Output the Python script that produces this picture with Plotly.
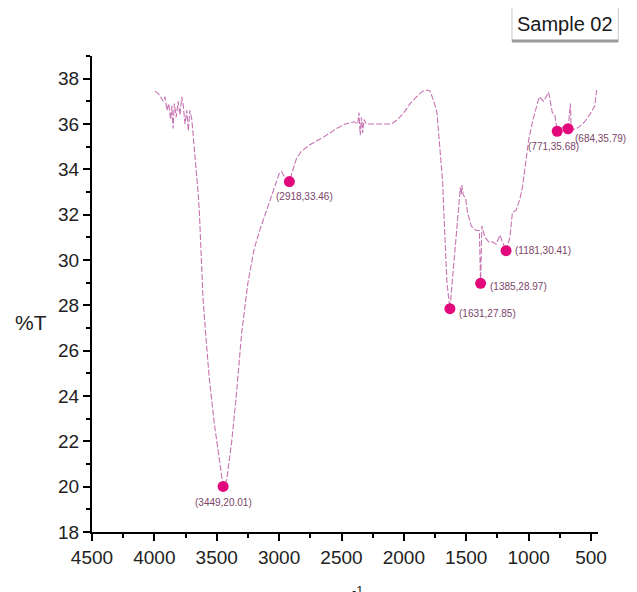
import plotly.graph_objects as go

# FTIR spectrum of Sample 02
wavenumber = [3995, 3970, 3950, 3930, 3915, 3900, 3885, 3870, 3860, 3850, 3840, 3825,
              3810, 3795, 3780, 3768, 3755, 3740, 3728, 3715, 3700, 3690, 3680, 3670,
              3660, 3650, 3640, 3625, 3610, 3590, 3560, 3520, 3480, 3449, 3420, 3380,
              3347, 3300, 3250, 3200, 3150, 3100, 3050, 3000, 2980, 2950, 2918, 2890,
              2860, 2820, 2750, 2650, 2540, 2470, 2400, 2370, 2360, 2350, 2340, 2330,
              2320, 2300, 2200, 2100, 2050, 2000, 1950, 1900, 1850, 1810, 1790, 1760,
              1735, 1710, 1690, 1675, 1655, 1631, 1615, 1600, 1580, 1565, 1555, 1548,
              1540, 1535, 1525, 1505, 1490, 1460, 1420, 1395, 1385, 1375, 1350, 1320,
              1290, 1260, 1230, 1210, 1181, 1150, 1130, 1100, 1070, 1050, 1000, 965,
              915, 880, 840, 810, 790, 771, 740, 700, 684, 665, 660, 640, 600, 550,
              500, 470, 455]
transmittance = [37.45, 37.35, 37.2, 37.0, 37.2, 36.6, 36.9, 36.2, 36.8, 35.8, 36.9, 36.3,
                 37.0, 36.4, 37.2, 36.8, 36.0, 36.6, 35.7, 36.6, 36.2, 35.6, 35.0, 34.5,
                 33.8, 33.0, 32.2, 30.4, 28.3, 26.8, 24.8, 22.8, 21.2, 20.01, 20.3, 22.0,
                 23.8, 26.8, 29.0, 30.5, 31.4, 32.2, 33.0, 33.8, 33.9, 33.6, 33.46, 34.0,
                 34.5, 34.8, 35.1, 35.4, 35.8, 36.0, 36.1, 36.0, 36.5, 35.5, 36.3, 35.6,
                 36.2, 36.0, 36.0, 36.0, 36.2, 36.5, 36.9, 37.2, 37.45, 37.5, 37.45, 37.0,
                 36.5, 35.0, 33.5, 31.5, 29.0, 27.85, 28.8, 29.7, 31.0, 32.0, 32.7, 33.2,
                 32.9, 33.3, 32.9, 32.7, 32.1, 31.5, 31.3, 31.3, 28.97, 31.5, 31.0, 30.8,
                 30.8, 30.7, 31.1, 30.8, 30.41, 31.0, 32.1, 32.2, 32.7, 33.2, 35.3, 36.2,
                 37.2, 37.0, 37.4, 36.5, 36.4, 35.68, 35.9, 35.7, 35.79, 36.9, 35.9, 35.75,
                 35.85, 36.1, 36.5, 36.8, 37.5]

peak_wn = [3449, 2918, 1631, 1385, 1181, 771, 684]
peak_t = [20.01, 33.46, 27.85, 28.97, 30.41, 35.68, 35.79]
peak_labels = ["(3449,20.01)", "(2918,33.46)", "(1631,27.85)", "(1385,28.97)",
               "(1181,30.41)", "(771,35.68)", "(684,35.79)"]
# label placement (anchor, xshift, yshift) per peak
label_pos = [("center", 0, -16), ("center", 15, -15), ("left", 7, -5), ("left", 7, -3),
             ("left", 7, 0), ("center", -4, -15), ("left", 5, -10)]

x_ticks = [4500, 4000, 3500, 3000, 2500, 2000, 1500, 1000, 500]
y_ticks = [18, 20, 22, 24, 26, 28, 30, 32, 34, 36, 38]

fig = go.Figure()
fig.add_trace(go.Scatter(
    x=wavenumber, y=transmittance, mode="lines",
    line=dict(color="#c774b3", width=1.1, dash="6px,2px"),
    showlegend=False, hoverinfo="skip"))
fig.add_trace(go.Scatter(
    x=peak_wn, y=peak_t, mode="markers",
    marker=dict(color="#e2097d", size=11),
    showlegend=False))

for wn, t, lab, (anc, dx, dy) in zip(peak_wn, peak_t, peak_labels, label_pos):
    fig.add_annotation(x=wn, y=t, text=lab, showarrow=False, xanchor=anc,
                       yanchor="middle", xshift=dx, yshift=dy,
                       font=dict(size=10, color="#7a4468", family="Liberation Sans"))

axis_common = dict(showline=True, linecolor="black", linewidth=2, ticks="outside",
                   ticklen=7, tickwidth=2, tickcolor="black", showgrid=False,
                   zeroline=False, mirror=False,
                   tickfont=dict(size=19, color="#222222", family="Liberation Sans"))

fig.update_xaxes(range=[4500, 444], tickvals=x_ticks, **axis_common,
                 minor=dict(ticks="outside", ticklen=4, tickwidth=2, tickcolor="black",
                            dtick=250, tick0=500, showgrid=False))
fig.update_yaxes(range=[18, 39], tickvals=y_ticks, **axis_common,
                 minor=dict(ticks="outside", ticklen=4, tickwidth=2, tickcolor="black",
                            dtick=1, tick0=18, showgrid=False))

# y-axis label (horizontal)
fig.add_annotation(xref="paper", yref="paper", x=-0.12, y=0.44, text="%T",
                   showarrow=False, xanchor="center", yanchor="middle",
                   font=dict(size=21, color="#222222", family="Liberation Sans"))
# x-axis label, mostly below the visible page
fig.add_annotation(xref="paper", yref="paper", x=0.5, y=-0.161, text="cm<sup>-1</sup>",
                   showarrow=False, xanchor="center", yanchor="bottom",
                   font=dict(size=18, color="#222222", family="Liberation Sans"))

# legend-like box
fig.add_shape(type="rect", xref="paper", yref="paper", x0=0.830, x1=1.040,
              y0=1.0315, y1=1.103, line=dict(color="#c8c8c8", width=1),
              fillcolor="white", layer="above")
fig.add_shape(type="line", xref="paper", yref="paper", x0=0.830, x1=1.040,
              y0=1.0315, y1=1.0315, line=dict(color="#9a9a9a", width=3), layer="above")
fig.add_annotation(xref="paper", yref="paper", x=0.935, y=1.067, text="Sample 02",
                   showarrow=False, xanchor="center", yanchor="middle",
                   font=dict(size=20, color="#1a1a1a", family="Liberation Sans"))

fig.update_layout(width=629, height=584, plot_bgcolor="white", paper_bgcolor="white",
                  margin=dict(l=84, r=39, t=48, b=60), showlegend=False)

fig.write_html("out.html")
